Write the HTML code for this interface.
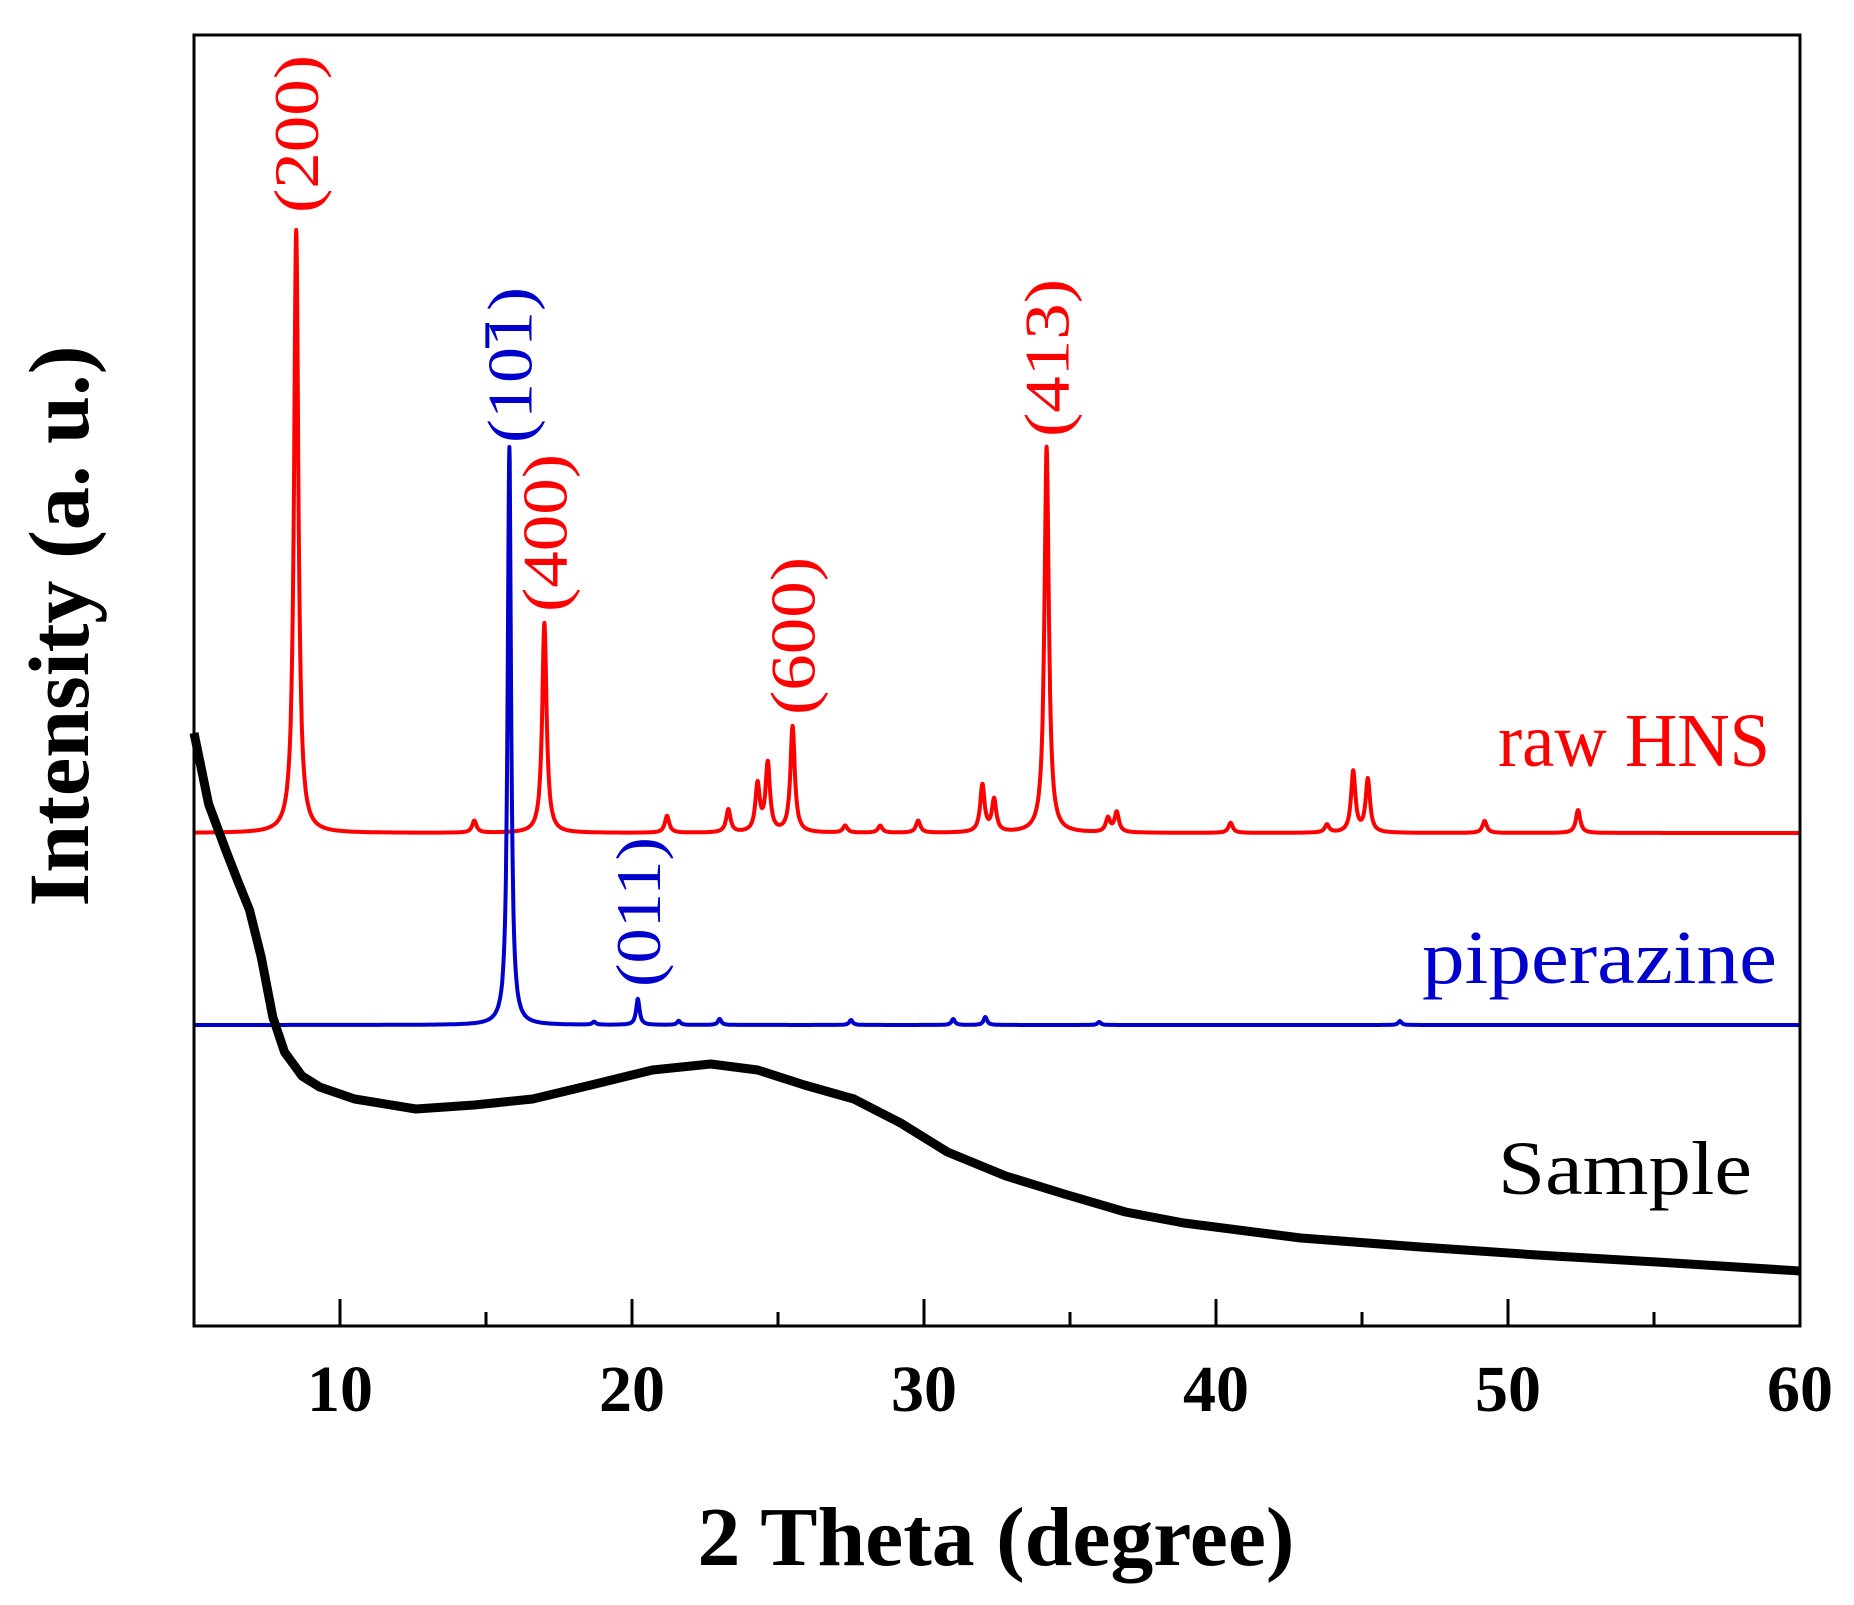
<!DOCTYPE html>
<html><head><meta charset="utf-8"><style>
html,body{margin:0;padding:0;background:#fff;}
svg{display:block;}
text{font-family:"Liberation Serif",serif;}
</style></head><body>
<svg id="chart" width="1854" height="1605" viewBox="0 0 1854 1605">
<g id="plot"></g>
</svg>
<script>
// ---- data ----
const xTicksMajor = [10, 20, 30, 40, 50, 60];
const xTicksMinor = [15, 25, 35, 45, 55];
const hnsBaseline = 493;
const hnsPeakPos = [8.5, 14.6, 17.0, 21.2, 23.3, 24.3, 24.65, 25.5, 27.3, 28.5, 29.8, 32.0, 32.4, 36.3, 36.6, 40.5, 43.8, 44.7, 45.2, 49.2, 52.4];
const hnsPeakHeight = [603, 12, 210, 17, 23, 47, 68, 106, 7, 7, 12, 47, 32, 14, 20, 10, 8, 61, 53, 12, 23];
const hnsPeakTop413 = 34.2;
const hnsPeak413Height = 386;
const pipBaseline = 301;
const pipPeakPos = [15.8, 18.7, 20.2, 21.6, 23.0, 27.5, 31.0, 32.1, 36.0, 46.3];
const pipPeakHeight = [578, 3, 26, 4, 6, 5, 6, 8, 3, 4];
const sampleX = [5, 5.5, 6.1, 6.5, 6.9, 7.3, 7.7, 8.1, 8.7, 9.3, 10.5, 12.6, 14.6, 16.6, 18.6, 20.7, 22.7, 24.3, 25.9, 27.6, 29.2, 30.8, 32.8, 34.8, 36.9, 38.9, 42.9, 47.0, 51.0, 55.1, 60];
const sampleY = [593, 522, 475, 445, 416, 369, 309, 274, 250, 239, 227, 217, 221, 227, 241, 256, 262, 256, 241, 227, 203, 174, 150, 132, 114, 103, 88, 79, 71, 64, 55];
const peakLabels = ["(200)", "(400)", "(600)", "(413)"];
const peakLabelX = [8.5, 17.0, 25.5, 34.2];
const peakLabelBottom = [1113, 714, 611, 889];

// ---- axes ----
const L = 194, R = 1800, T = 35, B = 1326;
const xMin = 5, xMax = 60;
const xs = v => L + (v - xMin) / (xMax - xMin) * (R - L);
const ys = v => B - v;

const NS = "http://www.w3.org/2000/svg";
const svg = document.getElementById('chart');
const plot = document.getElementById('plot');
function mk(tag, attrs, parent) {
  const e = document.createElementNS(NS, tag);
  for (const k in attrs) e.setAttribute(k, attrs[k]);
  (parent || svg).appendChild(e);
  return e;
}
function profile(x, pos, h, w) { let s = 0; for (let i = 0; i < pos.length; i++) { const d = (x - pos[i]) / w[i]; s += h[i] / (1 + d * d); } return s; }

const hp = hnsPeakPos.concat([hnsPeakTop413]);
const hh = hnsPeakHeight.concat([hnsPeak413Height]);
const hw = hp.map(p => 0.09);
let d = "";
for (let x = xMin; x <= xMax + 1e-9; x += 0.01) d += (d ? "L" : "M") + xs(x).toFixed(1) + "," + ys(hnsBaseline + profile(x, hp, hh, hw)).toFixed(1);
const hnsLine = mk('path', {d: d, fill: 'none', stroke: '#ff0000', 'stroke-width': 4, 'stroke-linejoin': 'round'}, plot);



const pw = pipPeakPos.map(p => 0.07);
d = "";
for (let x = xMin; x <= xMax + 1e-9; x += 0.01) d += (d ? "L" : "M") + xs(x).toFixed(1) + "," + ys(pipBaseline + profile(x, pipPeakPos, pipPeakHeight, pw)).toFixed(1);
const pipLine = mk('path', {d: d, fill: 'none', stroke: '#0000cc', 'stroke-width': 4, 'stroke-linejoin': 'round'}, plot);



d = "";
sampleX.forEach((x, i) => d += (i ? "L" : "M") + xs(x).toFixed(1) + "," + ys(sampleY[i]).toFixed(1));
const smp = mk('path', {d: d, fill: 'none', stroke: '#000', 'stroke-width': 9, 'stroke-linejoin': 'round'}, plot);



const frame = mk('rect', {x: L, y: T, width: R - L, height: B - T, fill: 'none', stroke: '#000', 'stroke-width': 3});



xTicksMajor.forEach(v => {
  const t = mk('line', {x1: xs(v), x2: xs(v), y1: B, y2: B - 27, stroke: '#000', 'stroke-width': 3});
  
  
  const lb = mk('text', {x: xs(v), y: 1411, 'text-anchor': 'middle', 'font-size': 66, 'font-weight': 'bold'});
  lb.textContent = v;
  
  
});
xTicksMinor.forEach(v => {
  const t = mk('line', {x1: xs(v), x2: xs(v), y1: B, y2: B - 14, stroke: '#000', 'stroke-width': 3});
  
  
});

peakLabels.forEach((s, i) => {
  const x = xs(peakLabelX[i]) + 22, y = B - peakLabelBottom[i];
  const t = mk('text', {x: 0, y: 0, transform: `translate(${x},${y}) rotate(-90)`, 'font-size': 64, fill: '#ff0000', textLength: 158, lengthAdjust: 'spacingAndGlyphs'});
  t.textContent = s;
  
  
});
function blueLabel(xv, bottom, parts, name, len) {
  const x = xs(xv) + 22, y = B - bottom;
  const t = mk('text', {x: 0, y: 0, transform: `translate(${x},${y}) rotate(-90)`, 'font-size': 64, fill: '#0000cc', textLength: len, lengthAdjust: 'spacingAndGlyphs'});
  parts.forEach(p => { const ts = mk('tspan', {}, t); ts.textContent = p; });
  
  
  return t;
}
blueLabel(15.8, 883, ["(101)"], 'peak-label-101', 156);
// overline bar on the last "1" of (101)
const bar = mk('line', {x1: xs(15.8) - 22, x2: xs(15.8) - 22, y1: B - 883 - 120, y2: B - 883 - 95, stroke: '#0000cc', 'stroke-width': 4});


blueLabel(20.2, 339, ["(011)"], 'peak-label-011', 150);

function lbl(txt, x, y, col, len, name) {
  const t = mk('text', {x: x, y: y, 'text-anchor': 'end', 'font-size': 76, fill: col, textLength: len, lengthAdjust: 'spacingAndGlyphs'});
  t.textContent = txt;
  
  
}
lbl("raw HNS", 1770, 766, '#ff0000', 272, 'raw-hns-label');
lbl("piperazine", 1777, 983, '#0000cc', 355, 'piperazine-label');
lbl("Sample", 1752, 1194, '#000', 254, 'sample-label');

const xt = mk('text', {x: 996, y: 1565, 'text-anchor': 'middle', 'font-size': 84, 'font-weight': 'bold', textLength: 597, lengthAdjust: 'spacingAndGlyphs'});
xt.textContent = "2 Theta (degree)";


const yt = mk('text', {x: 0, y: 0, transform: 'translate(88,626) rotate(-90)', 'text-anchor': 'middle', 'font-size': 86, 'font-weight': 'bold', textLength: 561, lengthAdjust: 'spacingAndGlyphs'});
yt.textContent = "Intensity (a. u.)";


</script>
</body></html>
